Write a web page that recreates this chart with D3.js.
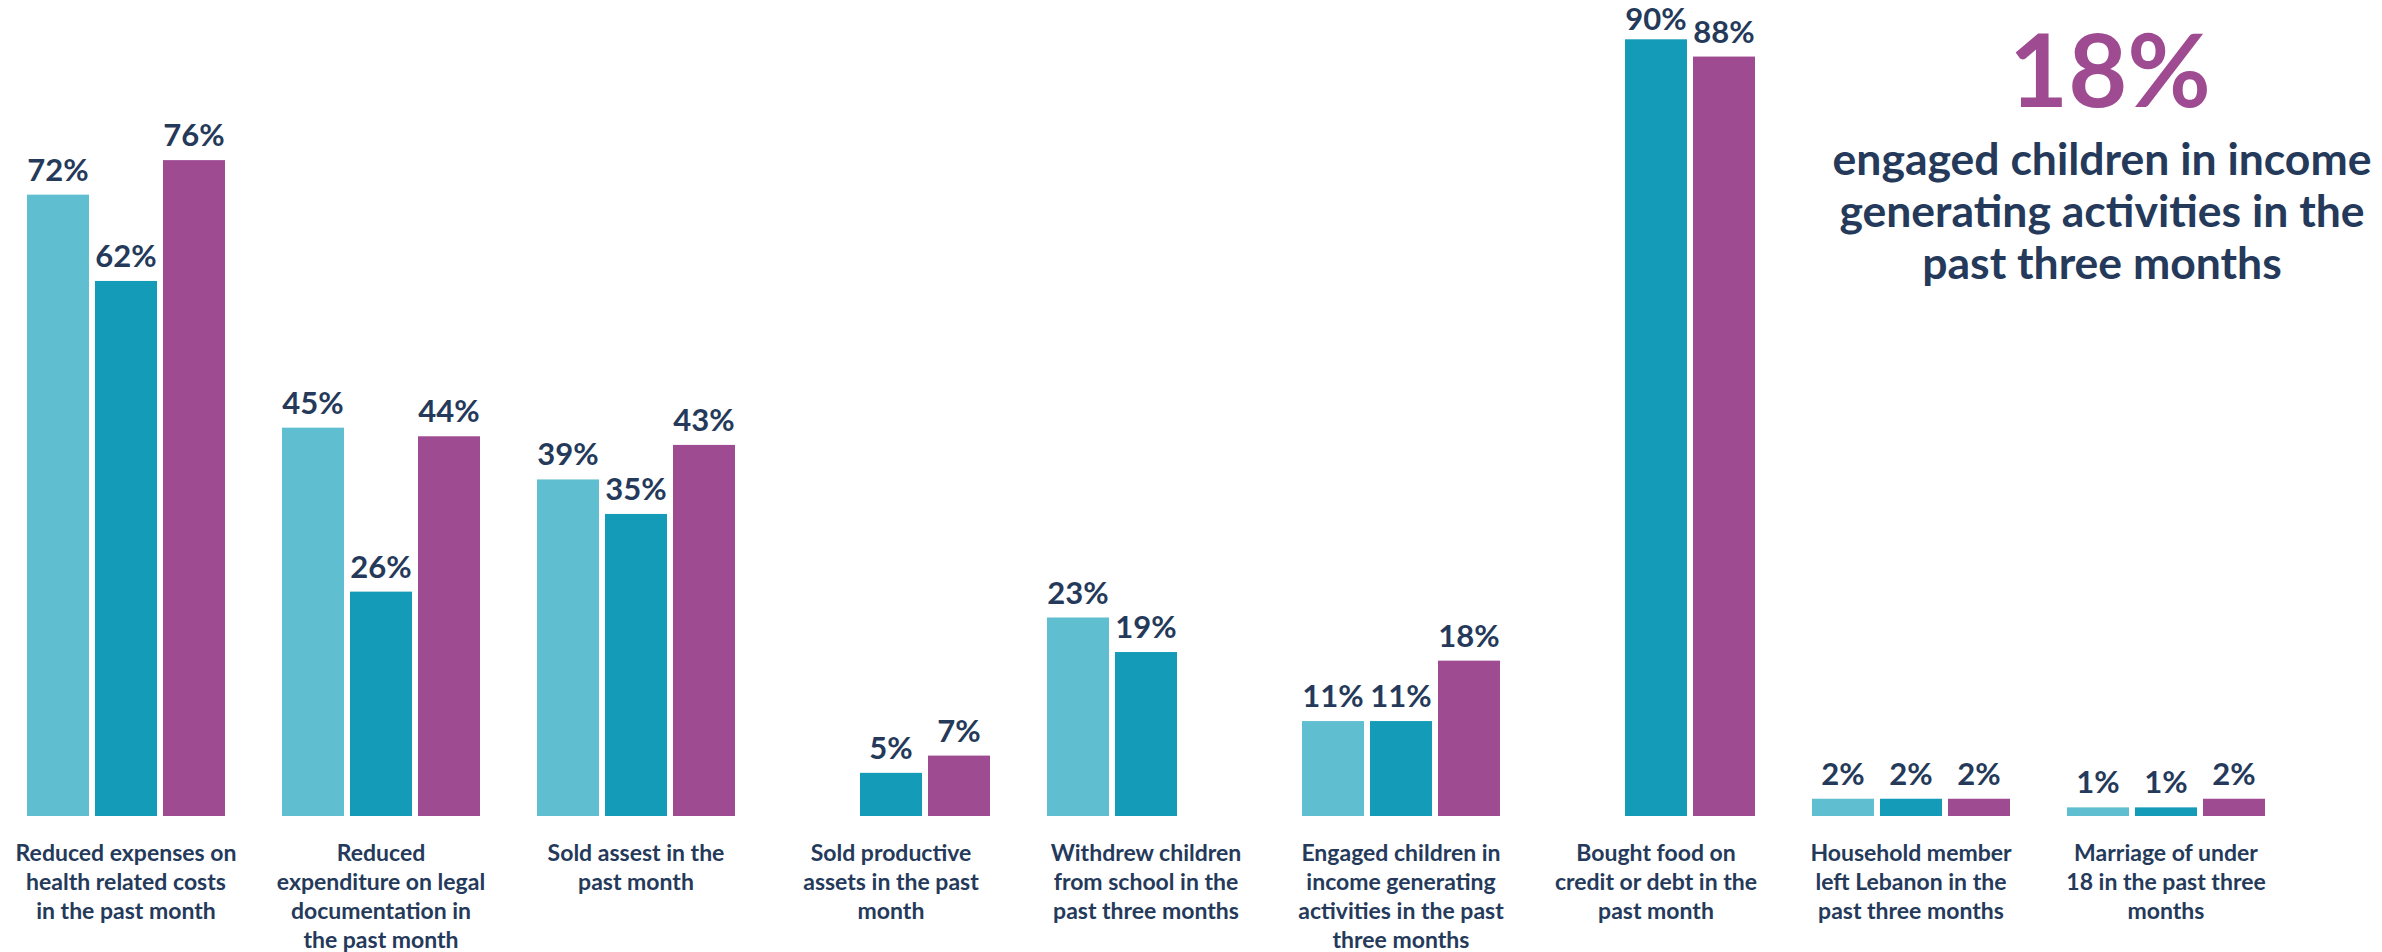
<!DOCTYPE html>
<html>
<head>
<meta charset="utf-8">
<script src="https://cdn.jsdelivr.net/npm/d3@7"></script>
<style>
  html, body { margin: 0; padding: 0; background: #ffffff; }
  svg { display: block; }
  text { font-family: Lato, "Open Sans", sans-serif; font-weight: 700; }
</style>
</head>
<body>
<svg id="chart" width="2382" height="952"></svg>
<script>
// Coping strategies, one group per strategy, three population series per group
const categories = [
  ["Reduced expenses on", "health related costs", "in the past month"],
  ["Reduced", "expenditure on legal", "documentation in", "the past month"],
  ["Sold assest in the", "past month"],
  ["Sold productive", "assets in the past", "month"],
  ["Withdrew children", "from school in the", "past three months"],
  ["Engaged children in", "income generating", "activities in the past", "three months"],
  ["Bought food on", "credit or debt in the", "past month"],
  ["Household member", "left Lebanon in the", "past three months"],
  ["Marriage of under", "18 in the past three", "months"]
];
const seriesKeys = ["s1", "s2", "s3"];
const series1 = [72, 45, 39, null, 23, 11, null, 2, 1];
const series2 = [62, 26, 35, 5, 19, 11, 90, 2, 1];
const series3 = [76, 44, 43, 7, null, 18, 88, 2, 2];
const seriesColors = ["#5fbecf", "#139bb8", "#9f4b91"];

const highlightValue = "18%";
const highlightLines = ["engaged children in income", "generating activities in the", "past three months"];

const textColor = "#253a5a";
const svg = d3.select("#chart");

const catIds = categories.map((c, i) => "c" + i);
const x0 = d3.scaleBand()
  .domain(catIds)
  .range([-1.5, -1.5 + 9 * 255])
  .paddingInner(57 / 255)
  .paddingOuter(57 / 255 / 2);
const x1 = d3.scaleBand()
  .domain(seriesKeys)
  .range([0, x0.bandwidth()])
  .paddingInner(6 / 68);
const y = d3.scaleLinear().domain([0, 100]).range([816, 816 - 863]);

const allSeries = [series1, series2, series3];
const rows = catIds.map((id, i) => ({
  id,
  lines: categories[i],
  values: seriesKeys.map((k, j) => ({ key: k, value: allSeries[j][i], color: seriesColors[j] }))
}));

const groups = svg.append("g").selectAll("g")
  .data(rows)
  .join("g")
  .attr("transform", d => `translate(${x0(d.id)},0)`);

const present = d => d.values.filter(v => v.value !== null);

groups.selectAll("rect")
  .data(present)
  .join("rect")
  .attr("x", d => x1(d.key))
  .attr("width", x1.bandwidth())
  .attr("y", d => y(d.value))
  .attr("height", d => y(0) - y(d.value))
  .attr("fill", d => d.color);

// Value labels sit above each bar, kept inside the top edge
groups.selectAll("text.val")
  .data(present)
  .join("text")
  .attr("class", "val")
  .attr("x", d => x1(d.key) + x1.bandwidth() / 2)
  .attr("y", d => Math.max(y(d.value) - 14, 30))
  .attr("text-anchor", "middle")
  .attr("font-size", 31)
  .attr("fill", textColor)
  .text(d => d.value + "%");

// Category labels, clipped to the plot area on the right
svg.append("clipPath").attr("id", "plotClip")
  .append("rect").attr("x", 0).attr("y", 0).attr("width", 2267).attr("height", 952);

const labels = svg.append("g").attr("clip-path", "url(#plotClip)")
  .selectAll("text")
  .data(rows)
  .join("text")
  .attr("x", d => x0(d.id) + x0.bandwidth() / 2)
  .attr("y", 861)
  .attr("text-anchor", "middle")
  .attr("font-size", 23)
  .attr("fill", textColor);

labels.selectAll("tspan")
  .data(d => d.lines.map(l => ({ l, cx: x0(d.id) + x0.bandwidth() / 2 })))
  .join("tspan")
  .attr("x", d => d.cx)
  .attr("dy", (d, i) => i === 0 ? 0 : 29)
  .text(d => d.l);

// Highlight call-out
svg.append("text")
  .attr("x", 2110)
  .attr("y", 107)
  .attr("text-anchor", "middle")
  .attr("font-size", 102)
  .attr("fill", "#9f4b91")
  .text(highlightValue);

svg.append("g").selectAll("text")
  .data(highlightLines)
  .join("text")
  .attr("x", 2102)
  .attr("y", (d, i) => 175 + i * 52)
  .attr("text-anchor", "middle")
  .attr("font-size", 44.5)
  .attr("fill", textColor)
  .text(d => d);
</script>
</body>
</html>
